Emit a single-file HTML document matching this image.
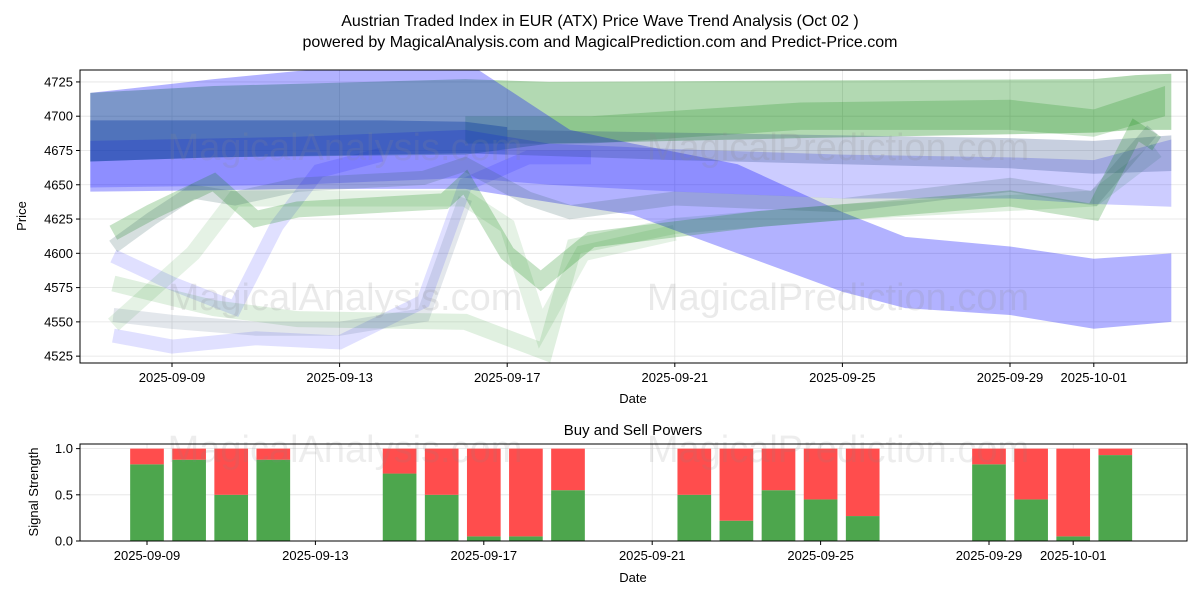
<!DOCTYPE html>
<html><head><meta charset="utf-8">
<style>
body{margin:0;background:#fff;}
svg{display:block;font-family:"Liberation Sans","DejaVu Sans",sans-serif;}
</style></head>
<body>
<svg id="chart" width="1200" height="600" viewBox="0 0 1200 600">
  <text x="600" y="26" font-size="16" text-anchor="middle">Austrian Traded Index in EUR (ATX) Price Wave Trend Analysis (Oct 02 )</text>
  <text x="600" y="47" font-size="16" text-anchor="middle">powered by MagicalAnalysis.com and MagicalPrediction.com and Predict-Price.com</text>
  <g id="topPanel"></g>
  <g id="botPanel"></g>
</svg>
<script>
// ---------- data ----------
const tickDays = [0, 4, 8, 12, 16, 20, 22];
const tickLabels = ["2025-09-09","2025-09-13","2025-09-17","2025-09-21","2025-09-25","2025-09-29","2025-10-01"];
const priceTicks = [4525,4550,4575,4600,4625,4650,4675,4700,4725];
const signalTicks = [0, 0.5, 1.0];
const signalTickLabels = ["0.0","0.5","1.0"];

const bandADays = [-1.95, 1, 3, 7, 9.5, 11, 13.5, 16, 17.5, 20, 22, 23.85];
const bandAHi = [4717, 4727, 4733, 4740, 4690, 4680, 4665, 4630, 4612, 4605, 4596, 4600];
const bandALo = [4645, 4646, 4647, 4647, 4635, 4628, 4600, 4572, 4560, 4555, 4545, 4550];

const bandBDays = [-1.95, 1, 7, 9, 15, 22, 23, 23.85];
const bandBHi = [4717, 4722, 4727, 4725, 4726, 4727, 4730, 4731];
const bandBLo = [4667, 4670, 4672, 4680, 4684, 4688, 4690, 4690];

const bandCDays = [-1.95, 1, 5, 7, 8];
const bandCHi = [4697, 4697, 4697, 4696, 4692];
const bandCLo = [4667, 4670, 4672, 4673, 4672];

const bandFDays = [8, 12, 16, 20, 22, 23.85];
const bandFHi = [4690, 4688, 4686, 4684, 4682, 4686];
const bandFLo = [4672, 4668, 4665, 4662, 4658, 4660];

const bandDDays = [7, 10, 15, 20, 22, 23.7];
const bandDHi = [4700, 4700, 4710, 4712, 4705, 4722];
const bandDLo = [4680, 4680, 4690, 4690, 4685, 4700];

const bandEDays = [-1.95, 3, 7, 9, 12, 16, 20, 22, 23.85];
const bandEHi = [4682, 4685, 4690, 4680, 4676, 4672, 4670, 4668, 4683];
const bandELo = [4648, 4650, 4655, 4650, 4645, 4640, 4640, 4636, 4634];

const waveGDays = [-1.4, -0.5, 1, 2, 3, 6.5, 7, 8, 8.8, 10, 14, 16, 20, 22, 23, 23.5];
const waveGVals = [4615, 4630, 4652, 4625, 4632, 4638, 4652, 4600, 4580, 4610, 4625, 4630, 4640, 4630, 4690, 4680];

const waveHDays = [-1.4, 1, 3, 7, 8.9, 9.6, 12, 16, 22, 23.5];
const waveHVals = [4578, 4560, 4552, 4550, 4528, 4605, 4620, 4630, 4640, 4675];

const waveIDays = [-1.4, -0.5, 0.5, 1.5, 3, 6, 7, 8.5, 9.5, 12, 16, 20, 22, 23.4];
const waveIVals = [4605, 4625, 4645, 4640, 4650, 4655, 4665, 4640, 4630, 4640, 4635, 4650, 4640, 4690];

const waveJDays = [-1.4, 0, 2, 4, 6, 7, 8.5, 10];
const waveJVals = [4540, 4532, 4538, 4535, 4565, 4650, 4670, 4670];

const waveKDays = [-1.4, 0, 1.5, 2.5, 3.5, 5];
const waveKVals = [4598, 4578, 4560, 4620, 4660, 4672];

const waveLDays = [-1.4, 0, 2, 4, 6, 7];
const waveLVals = [4555, 4550, 4545, 4545, 4555, 4640];

const waveMDays = [-1.4, 0.5, 1.5, 3, 7, 8, 8.8, 9.8, 12];
const waveMVals = [4548, 4600, 4640, 4640, 4640, 4620, 4545, 4600, 4615];

const sigDays = [0,1,2,3,6,7,8,9,10,13,14,15,16,17,20,21,22,23];
const sigBuy = [0.83,0.88,0.5,0.88,0.73,0.5,0.05,0.05,0.55,0.5,0.22,0.55,0.45,0.27,0.83,0.45,0.05,0.93];

// ---------- axes ----------
const NS = "http://www.w3.org/2000/svg";
const T = {l:80, r:1187, t:70, b:363, d0x:172, ppd:41.9, pMax:4733.7, pMin:4520};
const B = {l:80, r:1187, t:444, b:541, d0x:147, ppd:42.1};
const xT = d => T.d0x + d*T.ppd;
const yT = p => T.t + (T.pMax - p)/(T.pMax - T.pMin)*(T.b - T.t);
const xB = d => B.d0x + d*B.ppd;
const yB = v => B.b - v*(B.b - B.t)/1.05;

function mk(tag, attrs, parent){
  const e = document.createElementNS(NS, tag);
  for (const k in attrs) e.setAttribute(k, attrs[k]);
  parent.appendChild(e); return e;
}
const topG = document.getElementById('topPanel');
const botG = document.getElementById('botPanel');

tickDays.forEach((d,i)=>{
  const g = mk('line',{x1:xT(d),x2:xT(d),y1:T.t,y2:T.b,stroke:'#e3e3e3','stroke-width':0.8},topG);
  
  
});
priceTicks.forEach(p=>{
  const g = mk('line',{x1:T.l,x2:T.r,y1:yT(p),y2:yT(p),stroke:'#e3e3e3','stroke-width':0.8},topG);
  
  
});

const clip = mk('clipPath',{id:'clipT'},topG);
mk('rect',{x:T.l,y:T.t,width:T.r-T.l,height:T.b-T.t},clip);
const bands = mk('g',{'clip-path':'url(#clipT)'},topG);



function bandPoly(days, hi, lo, fill, op, name){
  const pts = days.map((d,i)=>xT(d)+','+yT(hi[i]));
  for (let i=days.length-1;i>=0;i--) pts.push(xT(days[i])+','+yT(lo[i]));
  const p = mk('polygon',{points:pts.join(' '),fill:fill,'fill-opacity':op},bands);
  
  
}
function wave(days, vals, stroke, op, w, name){
  const pts = days.map((d,i)=>xT(d)+','+yT(vals[i])).join(' ');
  const p = mk('polyline',{points:pts,fill:'none',stroke:stroke,'stroke-opacity':op,'stroke-width':w,'stroke-linejoin':'miter'},bands);
  
  
}
const BLUE='#0000ff', GREEN='#008000';
wave(waveJDays, waveJVals, BLUE, 0.12, 14, 'wave-light-blue-1');
wave(waveKDays, waveKVals, BLUE, 0.12, 14, 'wave-light-blue-2');
wave(waveHDays, waveHVals, GREEN, 0.12, 16, 'wave-light-green-1');
wave(waveMDays, waveMVals, GREEN, 0.1, 16, 'wave-light-green-2');
wave(waveLDays, waveLVals, '#406080', 0.15, 14, 'wave-grey-1');
bandPoly(bandBDays, bandBHi, bandBLo, GREEN, 0.3, 'band-green-top');
bandPoly(bandDDays, bandDHi, bandDLo, GREEN, 0.2, 'band-green-mid');
bandPoly(bandADays, bandAHi, bandALo, BLUE, 0.3, 'band-blue-wide');
bandPoly(bandEDays, bandEHi, bandELo, BLUE, 0.2, 'band-blue-mid');
bandPoly(bandCDays, bandCHi, bandCLo, '#0030a0', 0.35, 'band-blue-dark');
bandPoly(bandFDays, bandFHi, bandFLo, '#204080', 0.25, 'band-blue-grey');
wave(waveGDays, waveGVals, GREEN, 0.22, 16, 'wave-green-1');
wave(waveIDays, waveIVals, '#306060', 0.2, 14, 'wave-green-2');

[[345,160],[838,160],[345,310],[838,310]].forEach((p,i)=>{
  const t = mk('text',{x:p[0],y:p[1],'font-size':38,'text-anchor':'middle',fill:'#888','fill-opacity':0.18},topG);
  t.textContent = i%2===0 ? 'MagicalAnalysis.com' : 'MagicalPrediction.com';
  
  
});

const ft = mk('rect',{x:T.l,y:T.t,width:T.r-T.l,height:T.b-T.t,fill:'none',stroke:'#000','stroke-width':1},topG);


tickDays.forEach((d,i)=>{
  mk('line',{x1:xT(d),x2:xT(d),y1:T.b,y2:T.b+4,stroke:'#000'},topG);
  const t = mk('text',{x:xT(d),y:T.b+19,'font-size':13,'text-anchor':'middle'},topG);
  t.textContent = tickLabels[i];
  
  
});
priceTicks.forEach(p=>{
  mk('line',{x1:T.l-4,x2:T.l,y1:yT(p),y2:yT(p),stroke:'#000'},topG);
  const t = mk('text',{x:T.l-7,y:yT(p)+4.5,'font-size':13,'text-anchor':'end'},topG);
  t.textContent = p;
  
  
});
let t1 = mk('text',{x:633,y:403,'font-size':13,'text-anchor':'middle'},topG);
t1.textContent='Date';


let t2 = mk('text',{x:26,y:216,'font-size':13,'text-anchor':'middle',transform:'rotate(-90 26 216)'},topG);
t2.textContent='Price';



let bt = mk('text',{x:633,y:435,'font-size':15,'text-anchor':'middle'},botG);
bt.textContent='Buy and Sell Powers';


tickDays.forEach(d=>{
  const g = mk('line',{x1:xB(d),x2:xB(d),y1:B.t,y2:B.b,stroke:'#e3e3e3','stroke-width':0.8},botG);
  
  
});
signalTicks.forEach(v=>{
  const g = mk('line',{x1:B.l,x2:B.r,y1:yB(v),y2:yB(v),stroke:'#e3e3e3','stroke-width':0.8},botG);
  
  
});
const bw = 0.8*B.ppd;
sigDays.forEach((d,i)=>{
  const b = sigBuy[i];
  const g = mk('rect',{x:xB(d)-bw/2,y:yB(b),width:bw,height:yB(0)-yB(b),fill:'#4da64d'},botG);
  
  
  const r = mk('rect',{x:xB(d)-bw/2,y:yB(1),width:bw,height:yB(b)-yB(1),fill:'#ff4d4d'},botG);
  
  
});
[[345,462],[838,462]].forEach((p,i)=>{
  const t = mk('text',{x:p[0],y:p[1],'font-size':38,'text-anchor':'middle',fill:'#888','fill-opacity':0.15},botG);
  t.textContent = i===0 ? 'MagicalAnalysis.com' : 'MagicalPrediction.com';
  
  
});
const fb = mk('rect',{x:B.l,y:B.t,width:B.r-B.l,height:B.b-B.t,fill:'none',stroke:'#000','stroke-width':1},botG);


tickDays.forEach((d,i)=>{
  mk('line',{x1:xB(d),x2:xB(d),y1:B.b,y2:B.b+4,stroke:'#000'},botG);
  const t = mk('text',{x:xB(d),y:B.b+19,'font-size':13,'text-anchor':'middle'},botG);
  t.textContent = tickLabels[i];
  
  
});
signalTicks.forEach((v,i)=>{
  mk('line',{x1:B.l-4,x2:B.l,y1:yB(v),y2:yB(v),stroke:'#000'},botG);
  const t = mk('text',{x:B.l-7,y:yB(v)+4.5,'font-size':13,'text-anchor':'end'},botG);
  t.textContent = signalTickLabels[i];
  
  
});
let t3 = mk('text',{x:633,y:582,'font-size':13,'text-anchor':'middle'},botG);
t3.textContent='Date';


let t4 = mk('text',{x:38,y:492,'font-size':13,'text-anchor':'middle',transform:'rotate(-90 38 492)'},botG);
t4.textContent='Signal Strength';


</script>
</body></html>
